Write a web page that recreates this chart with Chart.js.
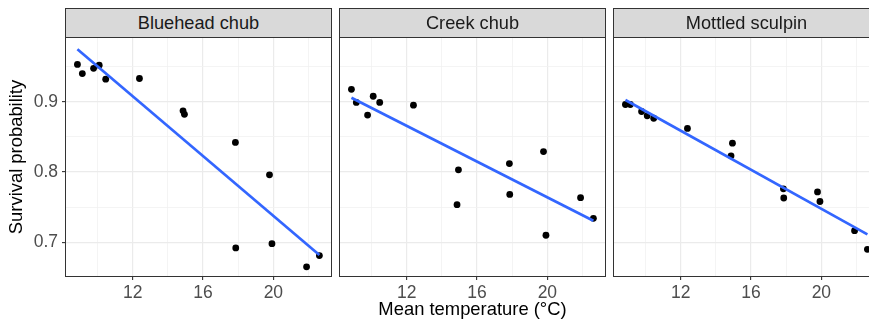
<!DOCTYPE html>
<html><head><meta charset="utf-8">
<script src="https://cdn.jsdelivr.net/npm/chart.js@4.4.0/dist/chart.umd.min.js"></script>
<style>
html,body{margin:0;padding:0;background:#fff;}
#wrap{position:relative;width:869px;height:325px;overflow:hidden;background:#fff;}
canvas{position:absolute;top:0;}
.strip{position:absolute;top:8px;height:30px;box-sizing:border-box;border:1px solid #333;background:#D9D9D9;color:#1A1A1A;font-family:'Liberation Sans',Arial,sans-serif;font-size:18.2px;text-align:center;line-height:28px;white-space:nowrap;}
</style></head><body>
<div id="wrap">
  <canvas id="c0" width="336" height="325" style="left:0px"></canvas>
  <canvas id="c1" width="273" height="325" style="left:336px"></canvas>
  <canvas id="c2" width="275" height="325" style="left:609px"></canvas>
  <div class="strip" id="s0" style="left:65px;width:267px"></div>
  <div class="strip" id="s1" style="left:339px;width:267px"></div>
  <div class="strip" id="s2" style="left:613px;width:267px"></div>
</div>
<script>
// ---- data ----
const species = ['Bluehead chub', 'Creek chub', 'Mottled sculpin'];
const temperature = [8.85, 9.13, 9.77, 10.09, 10.46, 12.38, 14.86, 14.94, 17.84, 17.86, 19.78, 19.92, 21.89, 22.62];
const blueheadSurvival = [0.953, 0.940, 0.9475, 0.952, 0.932, 0.933, 0.887, 0.882, 0.842, 0.692, 0.796, 0.698, 0.665, 0.681];
const creekSurvival = [0.9176, 0.899, 0.881, 0.9077, 0.899, 0.895, 0.7535, 0.803, 0.812, 0.768, 0.829, 0.710, 0.7635, 0.734];
const sculpinSurvival = [0.896, 0.896, 0.886, 0.880, 0.8764, 0.862, 0.823, 0.841, 0.776, 0.763, 0.7716, 0.758, 0.7165, 0.690];
// fitted lines, endpoints at the temperature extremes
const fitTemps = [8.85, 22.62];
const blueheadFit = [0.9745, 0.682];
const creekFit = [0.9057, 0.7307];
const sculpinFit = [0.9024, 0.7113];
// ticks
const xMajorTicks = [12, 16, 20];
const xMinorTicks = [10, 14, 18, 22];
const yMajorTicks = [0.7, 0.8, 0.9];
const yTickLabels = ['0.7', '0.8', '0.9'];
const yMinorTicks = [0.75, 0.85, 0.95];
const xRange = [8.2, 23.28];
const yRange = [0.652, 0.9906];

const FONT = "'Liberation Sans', Arial, sans-serif";

const panelBorder = {
  id: 'panelBorder',
  afterDraw(chart) {
    const {ctx, chartArea: a} = chart;
    ctx.save();
    ctx.strokeStyle = '#333333';
    ctx.lineWidth = 1;
    ctx.strokeRect(Math.round(a.left) - 0.5, Math.round(a.top) - 0.5,
      Math.round(a.right) - Math.round(a.left) + 1, Math.round(a.bottom) - Math.round(a.top) + 1);
    ctx.restore();
  }
};

function makePanel(idx, values, fit, opt) {
  document.getElementById('s' + idx).textContent = species[idx];
  const pts = temperature.map((t, i) => ({x: t, y: values[i]}));
  const line = fitTemps.map((t, i) => ({x: t, y: fit[i]}));
  const isMajorX = v => xMajorTicks.includes(v);
  const isMajorY = v => yMajorTicks.includes(v);
  new Chart(document.getElementById('c' + idx), {
    type: 'scatter',
    data: {
      datasets: [
        {type: 'line', data: line, borderColor: '#3366FF', borderWidth: 2.7, pointRadius: 0,
         fill: false, order: 0, tension: 0},
        {type: 'scatter', data: pts, backgroundColor: '#000000', borderWidth: 0,
         pointRadius: 3.4, pointHoverRadius: 3.4, order: 1}
      ]
    },
    options: {
      responsive: false,
      animation: false,
      events: [],
      layout: {padding: {left: opt.padL, right: opt.padR, top: 38, bottom: 0}},
      plugins: {legend: {display: false}, tooltip: {enabled: false}},
      scales: {
        x: {
          type: 'linear', min: xRange[0], max: xRange[1],
          afterBuildTicks: s => { s.ticks = xMinorTicks.concat(xMajorTicks).sort((a, b) => a - b).map(v => ({value: v})); },
          afterFit: s => { s.height = 49; },
          ticks: {autoSkip: false, maxRotation: 0, padding: 3, color: '#4D4D4D',
                  font: {family: FONT, size: 17.5},
                  callback: v => isMajorX(v) ? String(v) : ''},
          grid: {
            color: c => isMajorX(c.tick.value) ? '#EBEBEB' : '#F1F1F1',
            lineWidth: c => isMajorX(c.tick.value) ? 1.2 : 0.8,
            drawTicks: true, tickLength: 4, tickWidth: 1.1,
            tickColor: c => isMajorX(c.tick.value) ? '#333333' : 'rgba(0,0,0,0)'
          },
          border: {display: false},
          title: {display: opt.xTitle, text: 'Mean temperature (°C)', color: '#000000',
                  font: {family: FONT, size: 18.4}, padding: {top: 0, bottom: 4}}
        },
        y: {
          type: 'linear', min: yRange[0], max: yRange[1],
          afterBuildTicks: s => { s.ticks = yMinorTicks.concat(yMajorTicks).sort((a, b) => a - b).map(v => ({value: v})); },
          afterFit: s => { s.width = opt.yWidth; },
          ticks: {display: opt.yLabels, autoSkip: false, padding: 4, color: '#4D4D4D',
                  font: {family: FONT, size: 17.5},
                  callback: v => { const k = yMajorTicks.indexOf(v); return k >= 0 ? yTickLabels[k] : ''; }},
          grid: {
            color: c => isMajorY(c.tick.value) ? '#EBEBEB' : '#F1F1F1',
            lineWidth: c => isMajorY(c.tick.value) ? 1.2 : 0.8,
            drawTicks: opt.yLabels, tickLength: 4, tickWidth: 1.1,
            tickColor: c => isMajorY(c.tick.value) ? '#333333' : 'rgba(0,0,0,0)'
          },
          border: {display: false},
          title: {display: opt.yLabels, text: 'Survival probability', color: '#000000',
                  font: {family: FONT, size: 18.4}, padding: {top: 6, bottom: 0}}
        }
      }
    },
    plugins: [panelBorder]
  });
}

makePanel(0, blueheadSurvival, blueheadFit, {padL: 0, padR: 5, yWidth: 66, yLabels: true, xTitle: false});
makePanel(1, creekSurvival, creekFit, {padL: 4, padR: 4, yWidth: 0, yLabels: false, xTitle: true});
makePanel(2, sculpinSurvival, sculpinFit, {padL: 5, padR: 5, yWidth: 0, yLabels: false, xTitle: false});
</script>
</body></html>
